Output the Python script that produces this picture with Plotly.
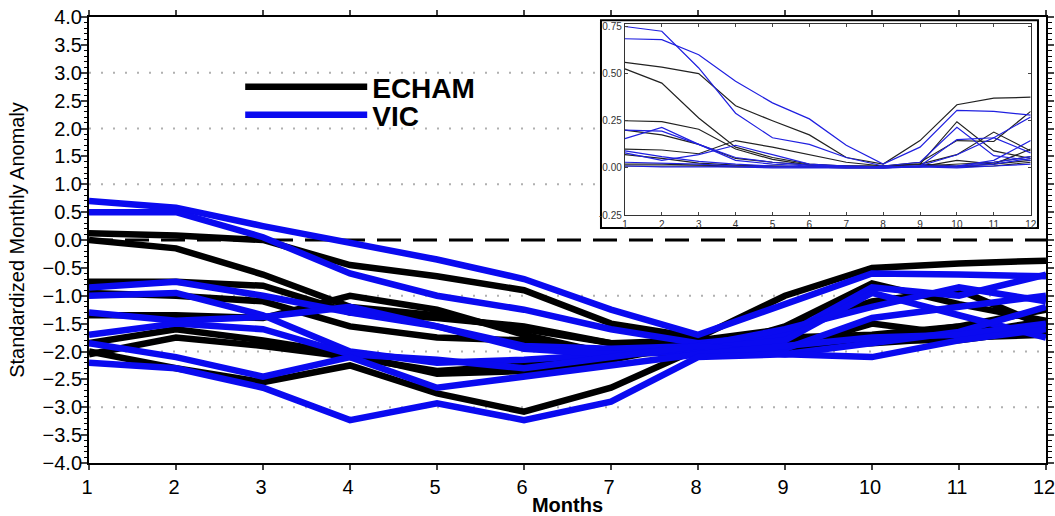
import plotly.graph_objects as go

months = list(range(1, 13))

# Main panel: standardized monthly anomaly
echam_main = [
    [0.12, 0.08, 0.00, -0.45, -0.65, -0.90, -1.50, -1.75, -1.00, -0.50, -0.42, -0.37],
    [0.00, -0.15, -0.62, -1.20, -1.35, -1.60, -1.85, -2.00, -1.55, -0.78, -1.15, -1.45],
    [-0.75, -0.75, -0.82, -1.30, -1.40, -1.55, -1.85, -1.80, -1.60, -1.10, -0.90, -1.55],
    [-0.95, -1.00, -1.10, -1.55, -1.75, -1.80, -2.00, -1.90, -1.85, -1.75, -1.55, -1.25],
    [-1.35, -1.35, -1.40, -1.00, -1.25, -1.70, -2.05, -2.00, -1.95, -1.50, -1.70, -1.45],
    [-1.85, -1.60, -1.80, -2.05, -2.40, -2.35, -2.15, -1.85, -1.90, -1.85, -1.75, -1.70],
    [-2.00, -2.30, -2.55, -2.25, -2.75, -3.08, -2.65, -1.95, -2.00, -1.80, -1.80, -1.60],
    [-2.05, -1.75, -1.90, -2.10, -2.35, -2.25, -2.10, -1.85, -1.75, -1.70, -1.55, -1.65],
]
vic_main = [
    [0.70, 0.58, 0.25, -0.05, -0.35, -0.70, -1.25, -1.70, -1.15, -0.60, -0.62, -0.65],
    [0.50, 0.50, 0.05, -0.60, -1.00, -1.25, -1.60, -1.85, -1.70, -0.85, -1.00, -0.62],
    [-0.85, -0.75, -1.00, -1.30, -1.55, -1.90, -1.95, -1.90, -1.60, -1.20, -0.85, -1.10],
    [-1.00, -0.95, -1.35, -2.00, -2.20, -2.15, -2.05, -2.00, -1.95, -1.40, -1.20, -1.00],
    [-1.30, -1.45, -1.38, -1.20, -1.55, -1.95, -2.05, -1.95, -1.80, -0.95, -1.35, -1.75],
    [-1.70, -1.50, -1.60, -2.05, -2.15, -2.30, -2.10, -1.90, -2.05, -1.85, -1.65, -1.20],
    [-1.85, -2.10, -2.45, -2.10, -2.65, -2.45, -2.25, -2.05, -1.90, -1.75, -1.70, -1.50],
    [-2.20, -2.30, -2.65, -3.23, -2.93, -3.23, -2.90, -2.10, -2.05, -2.10, -1.80, -1.60],
]

# Inset panel
echam_inset = [
    [0.56, 0.535, 0.50, 0.33, 0.25, 0.175, 0.055, 0.02, 0.145, 0.335, 0.37, 0.375],
    [0.525, 0.45, 0.265, 0.11, 0.055, 0.02, 0.01, 0.01, 0.02, 0.245, 0.09, 0.05],
    [0.25, 0.245, 0.205, 0.10, 0.045, 0.015, 0.01, 0.01, 0.03, 0.145, 0.14, 0.30],
    [0.20, 0.175, 0.125, 0.05, 0.03, 0.015, 0.01, 0.005, 0.02, 0.07, 0.19, 0.09],
    [0.10, 0.095, 0.075, 0.145, 0.11, 0.07, 0.03, 0.01, 0.02, 0.01, 0.02, 0.10],
    [0.07, 0.05, 0.025, 0.015, 0.01, 0.005, 0.005, 0.005, 0.01, 0.02, 0.03, 0.06],
    [0.02, 0.02, 0.015, 0.01, 0.01, 0.005, 0.005, 0.005, 0.005, 0.04, 0.02, 0.04],
    [0.01, 0.01, 0.01, 0.005, 0.005, 0.005, 0.0, 0.0, 0.01, 0.005, 0.01, 0.03],
]
vic_inset = [
    [0.75, 0.725, 0.53, 0.29, 0.16, 0.125, 0.055, 0.01, 0.03, 0.215, 0.065, 0.04],
    [0.685, 0.68, 0.60, 0.46, 0.345, 0.26, 0.12, 0.02, 0.11, 0.305, 0.30, 0.28],
    [0.155, 0.215, 0.125, 0.04, 0.02, 0.01, 0.005, 0.005, 0.01, 0.15, 0.16, 0.27],
    [0.20, 0.195, 0.125, 0.055, 0.03, 0.015, 0.01, 0.005, 0.01, 0.07, 0.16, 0.08],
    [0.08, 0.04, 0.07, 0.12, 0.07, 0.02, 0.01, 0.005, 0.01, 0.01, 0.04, 0.145],
    [0.09, 0.06, 0.035, 0.02, 0.01, 0.005, 0.005, 0.0, 0.01, 0.005, 0.02, 0.05],
    [0.03, 0.025, 0.02, 0.01, 0.005, 0.005, 0.0, 0.0, 0.005, 0.01, 0.03, 0.06],
    [0.01, 0.005, 0.005, 0.005, 0.0, 0.0, 0.0, 0.0, 0.005, 0.0, 0.01, 0.02],
]

main_ticks = [-4.0, -3.5, -3.0, -2.5, -2.0, -1.5, -1.0, -0.5, 0.0, 0.5, 1.0, 1.5, 2.0, 2.5, 3.0, 3.5, 4.0]
main_grid = [-3, -2, -1, 1, 2, 3]
inset_ticks = [-0.25, 0.0, 0.25, 0.5, 0.75]
inset_dotted = [0.25, 0.5]
inset_dashed = [0.75]

BLACK = "#000000"
BLUE = "#0a0af0"
FONT = "Liberation Sans, Arial, Helvetica, sans-serif"

fig = go.Figure()

for i, ys in enumerate(echam_main):
    fig.add_trace(go.Scatter(x=months, y=ys, mode="lines", name="<b>ECHAM</b>",
                             line=dict(color=BLACK, width=6.5),
                             showlegend=(i == 0), legend="legend", hoverinfo="skip"))
for i, ys in enumerate(vic_main):
    fig.add_trace(go.Scatter(x=months, y=ys, mode="lines", name="<b>VIC</b>",
                             line=dict(color=BLUE, width=6.5),
                             showlegend=(i == 0), legend="legend2", hoverinfo="skip"))

for ys in echam_inset:
    fig.add_trace(go.Scatter(x=months, y=ys, mode="lines", xaxis="x2", yaxis="y2",
                             line=dict(color="#222222", width=1.2), showlegend=False, hoverinfo="skip"))
for ys in vic_inset:
    fig.add_trace(go.Scatter(x=months, y=ys, mode="lines", xaxis="x2", yaxis="y2",
                             line=dict(color="#2020e0", width=1.2), showlegend=False, hoverinfo="skip"))

shapes = []
for g in main_grid:
    shapes.append(dict(type="line", xref="x domain", yref="y", x0=0, x1=1, y0=g, y1=g,
                       line=dict(color="#b0b0b0", width=2, dash="2px,10px"), layer="below"))
shapes.append(dict(type="line", xref="x domain", yref="y", x0=0, x1=1, y0=0, y1=0,
                   line=dict(color="black", width=3, dash="24px,12px"), layer="below"))
# inset white box (relative to inset axes domain)
shapes.append(dict(type="rect", xref="x2 domain", yref="y2 domain", x0=-0.059, x1=1.018, y0=-0.0676, y1=1.0186,
                   line=dict(color="black", width=2), fillcolor="white", layer="below"))
for g in inset_dotted:
    shapes.append(dict(type="line", xref="x2 domain", yref="y2", x0=0, x1=1, y0=g, y1=g,
                       line=dict(color="#bbbbbb", width=1.5, dash="1.5px,5px"), layer="below"))
for g in inset_dashed:
    shapes.append(dict(type="line", xref="x2 domain", yref="y2", x0=0, x1=1, y0=g, y1=g,
                       line=dict(color="#555555", width=1, dash="3px,2px"), layer="below"))

fig.update_layout(
    width=1055, height=516,
    margin=dict(l=89, r=9, t=17, b=53),
    paper_bgcolor="white", plot_bgcolor="white",
    font=dict(family=FONT, color="black", size=20),
    shapes=shapes,
    xaxis=dict(domain=[0, 1], range=[1, 12], tickvals=months, ticks="outside", ticklen=5,
               tickwidth=1.5, showline=True, linewidth=2, linecolor="black", mirror="ticks",
               showgrid=False, zeroline=False, tickfont=dict(size=20), automargin=False,
               ticklabeloverflow="allow", ticklabelshift=-2,
               title=dict(text="<b>Months</b>", font=dict(size=20), standoff=2)),
    yaxis=dict(domain=[0, 1], range=[-4, 4], tickvals=main_ticks, tickformat=".1f", ticks="outside",
               ticklen=6, tickwidth=1.5, showline=True, linewidth=2, linecolor="black", mirror="ticks",
               showgrid=False, zeroline=False, tickfont=dict(size=20), automargin=False,
               ticklabeloverflow="allow", ticklabelstandoff=-5,
               minor=dict(dtick=0.1, ticks="outside", ticklen=3.5, tickwidth=1, tickcolor="black", showgrid=False),
               title=dict(text="Standardized Monthly Anomaly", font=dict(size=20), standoff=13)),
    xaxis2=dict(domain=[0.560, 0.984], anchor="y2", range=[1, 12], tickvals=months, ticks="inside",
                ticklen=3, tickwidth=1, tickcolor="#444", showline=True, linewidth=1.3, linecolor="#333",
                mirror="ticks", showgrid=False, zeroline=False, tickfont=dict(size=10, color="#333"),
                automargin=False, ticklabeloverflow="allow"),
    yaxis2=dict(domain=[0.556, 0.985], anchor="x2", range=[-0.25, 0.765], tickvals=inset_ticks,
                ticktext=["-0.25", "0.00", "0.25", "0.50", "0.75"], ticks="inside", ticklen=3, tickwidth=1,
                tickcolor="#444", showline=True, linewidth=1.3, linecolor="#333", mirror="ticks",
                showgrid=False, zeroline=False, tickfont=dict(size=10, color="#333"), automargin=False,
                ticklabeloverflow="allow"),
    legend=dict(x=0.158, y=0.843, xanchor="left", yanchor="middle", bgcolor="rgba(0,0,0,0)",
                itemwidth=122, font=dict(size=28, family=FONT), itemclick=False),
    legend2=dict(x=0.158, y=0.780, xanchor="left", yanchor="middle", bgcolor="rgba(0,0,0,0)",
                 itemwidth=122, font=dict(size=28, family=FONT), itemclick=False),
)

fig.write_html("out.html", config={"displayModeBar": False},
               post_script="document.body.style.margin='0px';document.body.style.overflow='hidden';")
